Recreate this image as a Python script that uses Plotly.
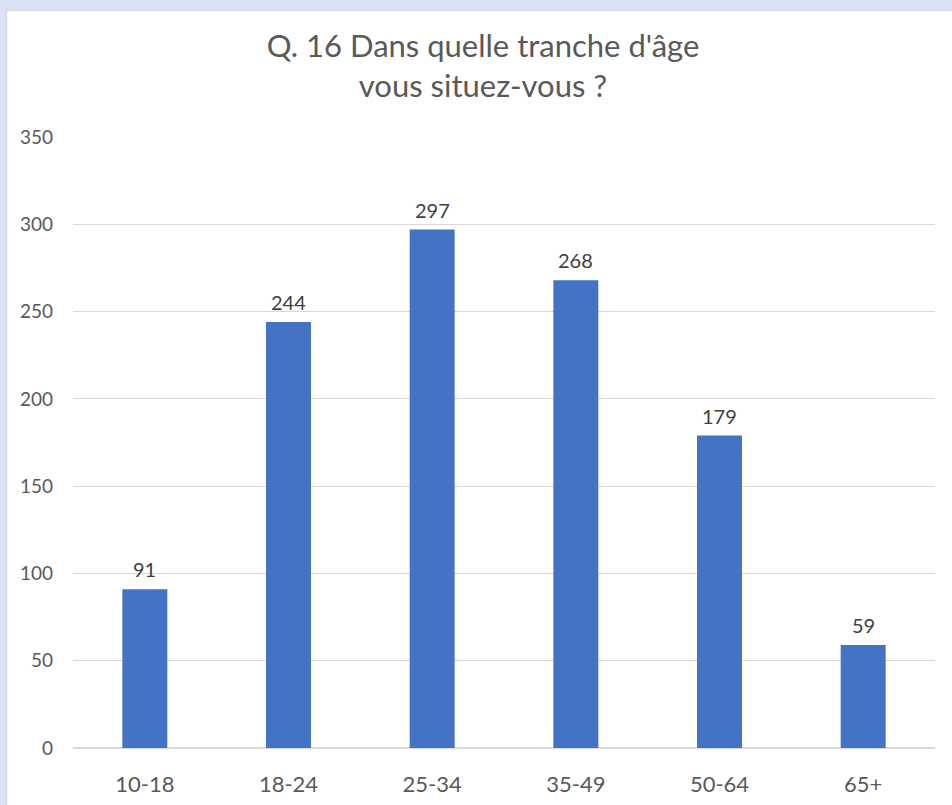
import plotly.graph_objects as go

categories = ["10-18", "18-24", "25-34", "35-49", "50-64", "65+"]
values = [91, 244, 297, 268, 179, 59]
y_ticks = [0, 50, 100, 150, 200, 250, 300, 350]
title_text = "Q. 16 Dans quelle tranche d'âge<br>vous situez-vous ?"

FONT = "Lato"
W, H = 952, 805
ML, MR, MT, MB = 73, 17, 137, 57
pw = W - ML - MR
ph = H - MT - MB

fig = go.Figure(go.Bar(
    x=categories, y=values,
    marker=dict(color="#4472C4", line=dict(width=0)),
    cliponaxis=False,
))

for c, v in zip(categories, values):
    fig.add_annotation(x=c, y=v, text=str(v), showarrow=False,
                       xanchor="center", yanchor="bottom", yshift=6,
                       font=dict(family=FONT, size=20, color="#404040"))

# white chart area on light-blue background
fig.add_shape(type="rect", xref="paper", yref="paper", layer="below",
              x0=(6.5 - ML) / pw, x1=(W + 20 - ML) / pw,
              y0=-(MB + 20) / ph, y1=(H - MB - 10.5) / ph,
              fillcolor="white", line=dict(color="#d9d9d9", width=1.5))

fig.update_layout(
    width=W, height=H,
    margin=dict(l=ML, r=MR, t=MT, b=MB, autoexpand=False),
    paper_bgcolor="#dae3f3",
    plot_bgcolor="rgba(0,0,0,0)",
    bargap=0.687,
    showlegend=False,
    title=dict(text=title_text, x=483 / W, xanchor="center",
               y=1 - 57 / H, yanchor="top", yref="container",
               font=dict(family=FONT, size=31, color="#595959")),
    font=dict(family=FONT, color="#595959"),
)
fig.update_yaxes(range=[0, 350], tickvals=y_ticks, showgrid=True,
                 gridcolor="#d9d9d9", gridwidth=1, zeroline=True,
                 zerolinecolor="#d9d9d9", zerolinewidth=1.5,
                 tickfont=dict(family=FONT, size=19, color="#595959"),
                 ticklabelstandoff=19, showline=False, automargin=False)
fig.update_xaxes(showgrid=False, showline=False, automargin=False,
                 tickfont=dict(family=FONT, size=22, color="#595959"),
                 ticklabelstandoff=21)

fig.write_html(
    "out.html",
    config={"displayModeBar": False},
    post_script="document.body.style.margin='0';"
                "document.body.style.background='#dae3f3';"
                "document.body.style.overflow='hidden';",
)
